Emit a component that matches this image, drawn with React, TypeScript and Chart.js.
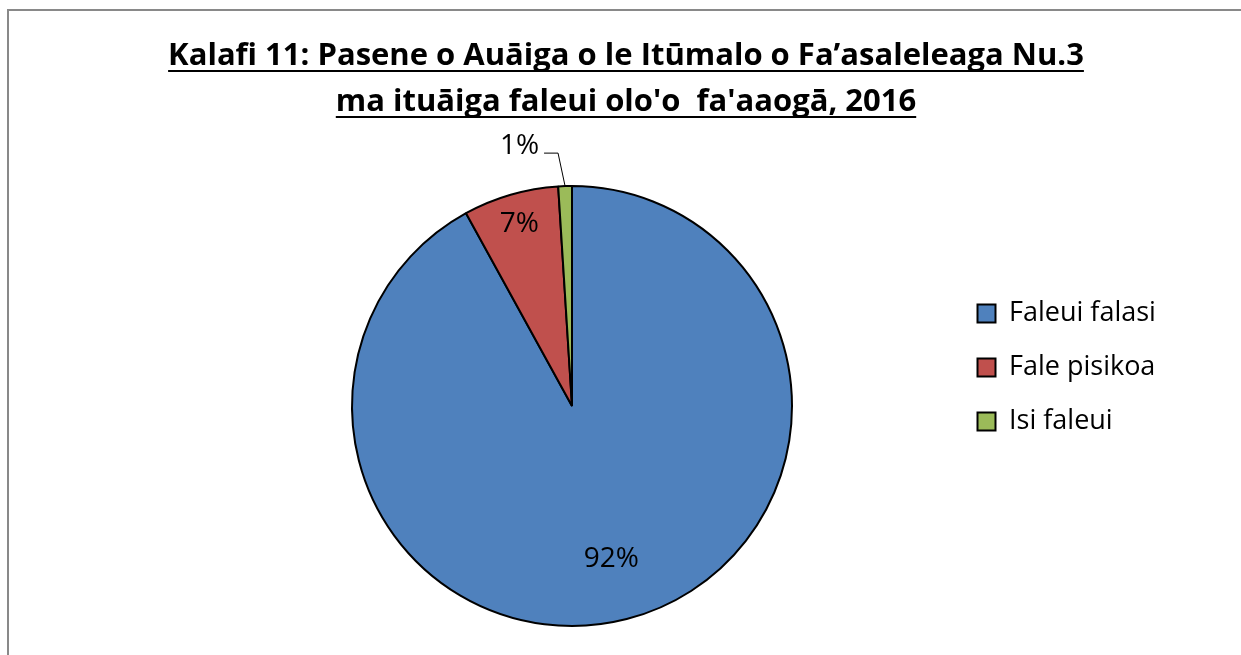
import React, { useEffect, useRef } from "react";
import { Chart, registerables } from "chart.js";

Chart.register(...registerables);

// ---- data ----
const TITLE_LINES = [
  "Kalafi 11: Pasene o Auāiga o le Itūmalo o Fa’asaleleaga Nu.3",
  "ma ituāiga faleui olo'o  fa'aaogā, 2016",
];
const CATEGORIES = ["Faleui falasi", "Fale pisikoa", "Isi faleui"];
const VALUES = [92, 7, 1];
const COLORS = ["#4F81BD", "#C0504D", "#9BBB59"];

// ---- styling ----
const W = 1241;
const H = 655;
const FONT = '"Open Sans", "Noto Sans", sans-serif';
const LEGEND_SIZE = 27;
const LABEL_FACTORS = [0.72, 0.86, 1.15];

const framePlugin = {
  id: "frameAndTitle",
  beforeDraw(chart: any) {
    const ctx = chart.ctx as CanvasRenderingContext2D;
    ctx.save();
    ctx.fillStyle = "#ffffff";
    ctx.fillRect(0, 0, chart.width, chart.height);
    ctx.fillStyle = "#898989";
    ctx.fillRect(7, 9, 2, chart.height - 9);
    ctx.fillRect(7, 9, chart.width - 7, 2);
    // title (bold, underlined)
    ctx.fillStyle = "#000000";
    ctx.font = `bold 31px ${FONT}`;
    ctx.textAlign = "center";
    ctx.textBaseline = "alphabetic";
    const cx = 626;
    const baselines = [65, 111];
    TITLE_LINES.forEach((t, i) => {
      ctx.fillText(t, cx, baselines[i]);
      const w = ctx.measureText(t).width;
      ctx.fillRect(cx - w / 2, baselines[i] + 5, w, 2);
    });
    ctx.restore();
  },
};

const labelPlugin = {
  id: "sliceLabels",
  afterDatasetsDraw(chart: any) {
    const meta = chart.getDatasetMeta(0);
    const ds = chart.data.datasets[0].data as number[];
    const total = ds.reduce((a, b) => a + b, 0);
    const ctx = chart.ctx as CanvasRenderingContext2D;
    ctx.save();
    ctx.font = `28px ${FONT}`;
    ctx.fillStyle = "#000";
    meta.data.forEach((arc: any, i: number) => {
      const { x, y, startAngle, endAngle, outerRadius } = arc.getProps(
        ["x", "y", "startAngle", "endAngle", "outerRadius"],
        true
      );
      const mid = (startAngle + endAngle) / 2;
      const c = Math.cos(mid);
      const s = Math.sin(mid);
      const text = Math.round((ds[i] / total) * 100) + "%";
      const f = LABEL_FACTORS[i];
      if (f <= 1) {
        ctx.textAlign = "center";
        ctx.textBaseline = "middle";
        ctx.fillText(text, x + c * outerRadius * f, y + s * outerRadius * f);
      } else {
        const ax = x + c * outerRadius;
        const ay = y + s * outerRadius;
        const ex = x + c * outerRadius * f - 6;
        const ey = y + s * outerRadius * f;
        const dir = c < 0 ? -1 : 1;
        const lx = ex + dir * 14;
        ctx.strokeStyle = "#000";
        ctx.lineWidth = 1;
        ctx.beginPath();
        ctx.moveTo(ax, ay);
        ctx.lineTo(ex, ey);
        ctx.lineTo(lx, ey);
        ctx.stroke();
        ctx.textAlign = dir < 0 ? "right" : "left";
        ctx.textBaseline = "alphabetic";
        ctx.fillText(text, lx + dir * 5, ey + 1);
      }
    });
    ctx.restore();
  },
};

export default function App() {
  const ref = useRef<HTMLCanvasElement>(null);

  useEffect(() => {
    const canvas = ref.current;
    if (!canvas) return;
    const m = document.createElement("canvas").getContext("2d")!;
    m.font = `${LEGEND_SIZE}px ${FONT}`;
    const tw = Math.max(...CATEGORIES.map((c) => m.measureText(c).width));

    const chart = new Chart(canvas, {
      type: "pie",
      data: {
        labels: CATEGORIES,
        datasets: [
          {
            data: VALUES,
            backgroundColor: COLORS,
            borderColor: "#000000",
            borderWidth: 2,
            radius: 220,
          } as any,
        ],
      },
      options: {
        responsive: false,
        animation: false,
        events: [],
        layout: {
          padding: { left: 193.5, top: 273, bottom: 116, right: 222 - tw },
        },
        plugins: {
          title: { display: false },
          tooltip: { enabled: false },
          legend: {
            position: "right",
            align: "start",
            fullSize: false,
            labels: {
              font: { size: LEGEND_SIZE, family: FONT },
              color: "#000000",
              boxWidth: 18,
              boxHeight: 18,
              padding: 27,
            },
          },
        },
      },
      plugins: [framePlugin, labelPlugin],
    });
    return () => chart.destroy();
  }, []);

  return (
    <div style={{ position: "absolute", left: 0, top: 0, width: W, height: H }}>
      <canvas ref={ref} width={W} height={H} style={{ display: "block" }} />
    </div>
  );
}
